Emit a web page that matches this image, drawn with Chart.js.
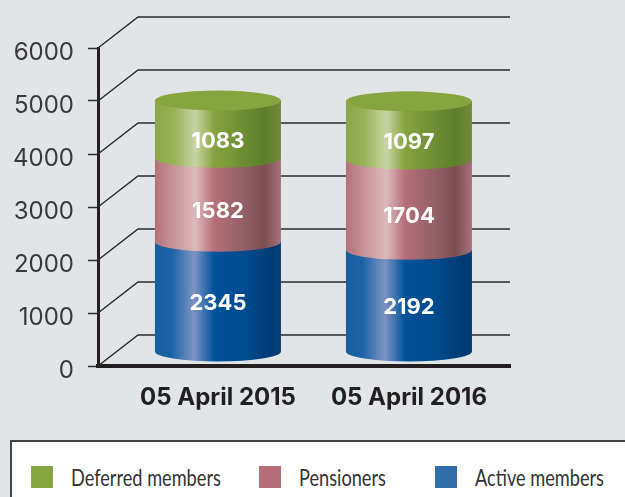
<!DOCTYPE html>
<html>
<head>
<meta charset="utf-8">
<script src="https://cdn.jsdelivr.net/npm/chart.js@4/dist/chart.umd.min.js"></script>
<style>
    html, body { margin: 0; padding: 0; background: #e2e5e8; overflow: hidden; }
    #wrap { position: relative; width: 625px; height: 497px; }
    #legend-box {
        position: absolute; left: 10px; top: 440px; width: 640px; height: 80px;
        background: #fff; border: 2px solid #444; box-sizing: border-box;
    }
    .legend-item { position: absolute; top: 24px; height: 22px; white-space: nowrap; }
    .legend-item i { position: absolute; left: 0; top: 0; width: 22px; height: 22px; }
    .legend-item span {
        position: absolute; left: 40px; top: -3px; line-height: 26px;
        font: 23px Lato, "Noto Sans", sans-serif; color: #333;
        transform: scaleX(.79); transform-origin: left center;
    }
</style>
</head>
<body>
<div id="wrap">
    <canvas id="chart" width="625" height="497"></canvas>
    <div id="legend-box"></div>
</div>
<script>
const categories = ["05 April 2015", "05 April 2016"];
const active = [2345, 2192];
const pensioners = [1582, 1704];
const deferred = [1083, 1097];
const yTicks = [0, 1000, 2000, 3000, 4000, 5000, 6000];

const legendNames = ["Deferred members", "Pensioners", "Active members"];
const legendColors = ["#86a540", "#b56e78", "#2f6ea8"];
const legendLeft = [19, 247, 423];

// gradient stops across the cylinder, left to right
const shades = [
    [[0, "#15609f"], [.13, "#1b64a6"], [.31, "#7c93c4"], [.47, "#00529b"], [.72, "#004a8c"], [.94, "#003a75"], [1, "#003f7c"]],
    [[0, "#b5717b"], [.15, "#c79499"], [.32, "#dcb9bc"], [.47, "#b56e78"], [.72, "#8f5f65"], [.87, "#7d4d53"], [1, "#a5747c"]],
    [[0, "#8aa846"], [.15, "#98b259"], [.32, "#c9d3a3"], [.47, "#86a33f"], [.72, "#6c8c33"], [.87, "#5e7d2a"], [1, "#6f8c3a"]]
];

const depthX = 40, depthY = 31;
const capRy = 10, baseLift = 14;

// back wall lines running off each y tick
const depthGrid = {
    id: "depthGrid",
    beforeDatasetsDraw(chart) {
        const { ctx, scales: { x, y }, chartArea } = chart;
        ctx.save();
        ctx.strokeStyle = "#2b2a2b";
        ctx.lineWidth = 1.5;
        yTicks.forEach(function (t) {
            const py = y.getPixelForValue(t);
            ctx.beginPath();
            ctx.moveTo(chartArea.left, py);
            ctx.lineTo(chartArea.left + depthX, py - depthY);
            ctx.lineTo(chartArea.right, py - depthY);
            ctx.stroke();
        });
        ctx.restore();
    }
};

// the bars stay invisible, their elements give the place of each cylinder
const cylinders = {
    id: "cylinders",
    afterDatasetsDraw(chart) {
        const { ctx } = chart;
        ctx.save();
        categories.forEach(function (c, i) {
            chart.data.datasets.forEach(function (ds, d) {
                const bar = chart.getDatasetMeta(d).data[i];
                const rx = bar.width / 2;
                const left = bar.x - rx;
                const right = bar.x + rx;
                const bottom = d === 0 ? bar.base - baseLift : bar.base;
                const g = ctx.createLinearGradient(left, 0, right, 0);
                shades[d].forEach(function (s) { g.addColorStop(s[0], s[1]); });
                ctx.fillStyle = g;
                ctx.beginPath();
                ctx.moveTo(left, bar.y);
                ctx.lineTo(left, bottom);
                ctx.ellipse(bar.x, bottom, rx, capRy, 0, Math.PI, 0, true);
                ctx.lineTo(right, bar.y);
                ctx.closePath();
                ctx.fill();
                if (d === chart.data.datasets.length - 1) {
                    ctx.fillStyle = "#86a540";
                    ctx.beginPath();
                    ctx.ellipse(bar.x, bar.y, rx, capRy, 0, 0, Math.PI * 2);
                    ctx.fill();
                }
            });
            chart.data.datasets.forEach(function (ds, d) {
                const bar = chart.getDatasetMeta(d).data[i];
                const bottom = d === 0 ? bar.base - baseLift : bar.base;
                ctx.fillStyle = "#fff";
                ctx.font = "bold 22px Inter, 'Open Sans', sans-serif";
                ctx.textAlign = "center";
                ctx.textBaseline = "middle";
                // blue labels sit a little higher than the other two
                const nudge = d === 0 ? -3 : 2;
                ctx.fillText(ds.data[i].y, bar.x, (bar.y + bottom) / 2 + capRy + nudge);
            });
        });
        ctx.restore();
    }
};

function points(values) {
    return values.map(function (v, i) { return { x: i, y: v }; });
}

function barSet(label, values) {
    return {
        label: label,
        data: points(values),
        backgroundColor: "rgba(0,0,0,0)",
        borderWidth: 0,
        barThickness: 126
    };
}

new Chart(document.getElementById("chart"), {
    type: "bar",
    data: {
        datasets: [
            barSet("Active members", active),
            barSet("Pensioners", pensioners),
            barSet("Deferred members", deferred)
        ]
    },
    options: {
        responsive: false,
        animation: false,
        layout: { padding: { left: 0, top: 48, right: 115, bottom: 71 } },
        plugins: { legend: { display: false }, tooltip: { enabled: false } },
        scales: {
            x: {
                type: "linear",
                stacked: true,
                offset: false,
                min: -0.628,
                max: 1.529,
                afterBuildTicks(scale) {
                    scale.ticks = categories.map(function (c, i) { return { value: i }; });
                },
                afterFit(scale) { scale.height = 60; },
                grid: { drawOnChartArea: false, drawTicks: false },
                border: { color: "#231f20", width: 4 },
                ticks: {
                    padding: 17,
                    maxRotation: 0,
                    autoSkip: false,
                    color: "#231f20",
                    font: { family: "Inter, 'Open Sans', sans-serif", size: 24, weight: "bold" },
                    callback: function (v) { return categories[v]; }
                }
            },
            y: {
                stacked: true,
                min: yTicks[0],
                max: yTicks[yTicks.length - 1],
                afterFit(scale) { scale.width = 98; },
                grid: { drawOnChartArea: false, tickLength: 10, tickColor: "#2b2a2b", tickWidth: 1.5 },
                border: { color: "#231f20", width: 3 },
                ticks: {
                    stepSize: 1000,
                    padding: 14,
                    labelOffset: 5,
                    color: "#3a3839",
                    font: { family: "Inter, 'Open Sans', sans-serif", size: 24, weight: "normal" },
                    callback: function (v) { return String(v); }
                }
            }
        }
    },
    plugins: [depthGrid, cylinders]
});

const box = document.getElementById("legend-box");
legendNames.forEach(function (name, i) {
    const item = document.createElement("div");
    item.className = "legend-item";
    item.style.left = legendLeft[i] + "px";
    item.innerHTML = '<i style="background:' + legendColors[i] + '"></i><span>' + name + "</span>";
    box.appendChild(item);
});
</script>
</body>
</html>
